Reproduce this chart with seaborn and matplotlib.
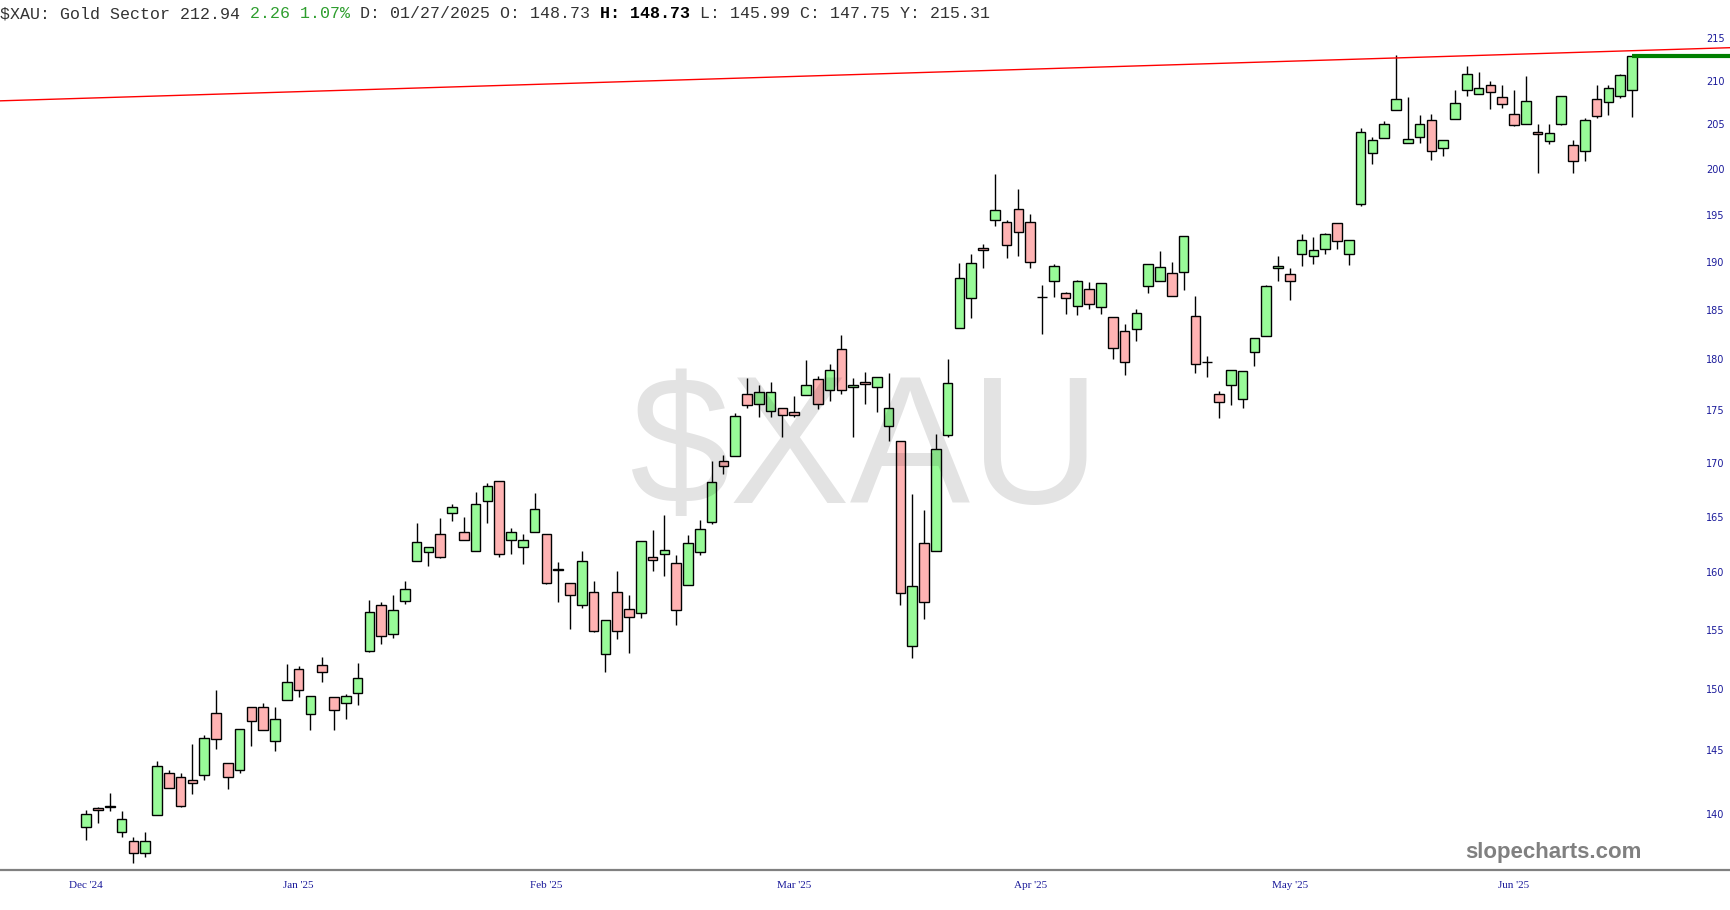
import numpy as np
import pandas as pd
import seaborn as sns
import matplotlib.pyplot as plt

# OHLC (velas diarias, dic 2024 - jun 2025)
opens = [139.0, 140.4, 140.5, 138.6, 137.9, 137.0, 139.9, 143.2, 142.9, 142.6,
         143.0, 148.0, 144.0, 143.4, 148.5, 148.5, 145.7, 149.1, 151.7, 147.9,
         152.0, 149.3, 148.8, 149.7, 153.2, 157.1, 154.6, 157.5, 161.0, 161.8,
         163.4, 165.3, 163.6, 161.9, 166.4, 168.3, 162.9, 162.3, 163.6, 163.4,
         160.2, 159.1, 157.1, 158.3, 152.9, 158.3, 156.8, 156.4, 161.4, 161.6,
         160.8, 158.9, 161.8, 164.5, 170.2, 170.6, 176.6, 175.6, 174.9, 175.2,
         174.8, 176.5, 178.1, 177.0, 181.0, 177.3, 177.8, 177.3, 173.5, 172.1,
         153.6, 162.6, 161.9, 172.6, 183.2, 186.2, 191.5, 194.4, 194.2, 195.6,
         194.2, 186.3, 188.0, 186.7, 185.4, 187.2, 185.3, 184.3, 182.9, 183.1,
         187.5, 188.0, 188.8, 188.9, 184.4, 179.7, 176.6, 177.5, 176.1, 180.7,
         182.4, 189.3, 188.7, 190.8, 190.6, 191.4, 194.1, 190.8, 196.2, 201.8,
         203.5, 206.6, 202.9, 203.6, 205.5, 202.4, 205.6, 208.9, 208.5, 209.5,
         208.1, 206.2, 205.0, 204.2, 203.1, 205.1, 202.7, 202.0, 207.9, 207.6,
         208.3, 208.9]
highs = [140.3, 140.5, 141.6, 140.2, 138.2, 138.6, 144.1, 143.4, 143.2, 145.5,
         146.2, 149.9, 144.0, 146.7, 148.5, 148.8, 148.5, 152.1, 151.9, 149.4,
         152.7, 149.3, 149.6, 152.2, 157.6, 157.4, 158.0, 159.2, 164.4, 162.3,
         164.9, 166.2, 165.0, 167.3, 168.1, 168.3, 164.0, 163.4, 167.2, 163.4,
         160.9, 159.1, 161.9, 159.2, 155.8, 160.1, 158.0, 162.8, 163.8, 165.2,
         161.5, 163.3, 164.7, 170.2, 170.7, 174.7, 178.2, 177.5, 177.8, 175.2,
         176.4, 179.9, 178.4, 179.6, 182.5, 178.2, 178.8, 178.3, 178.7, 172.1,
         167.1, 165.6, 172.7, 180.0, 189.9, 190.8, 191.9, 199.5, 194.4, 197.8,
         195.1, 187.6, 189.8, 186.8, 188.1, 187.9, 187.8, 184.3, 183.6, 185.1,
         189.8, 191.1, 190.0, 192.7, 186.4, 180.3, 176.9, 179.0, 178.9, 182.2,
         187.6, 190.6, 189.4, 192.9, 192.6, 193.1, 194.1, 192.3, 204.6, 203.6,
         205.4, 213.0, 208.1, 206.1, 206.2, 203.2, 208.9, 211.7, 211.1, 210.0,
         209.5, 208.9, 210.6, 205.0, 205.0, 208.3, 203.2, 205.7, 209.5, 209.5,
         210.8, 212.94]
lows = [138.0, 139.3, 140.2, 138.2, 136.2, 136.7, 139.9, 142.0, 140.5, 141.5,
        142.6, 145.1, 141.9, 143.2, 145.3, 146.6, 144.9, 149.1, 149.3, 146.6,
        150.6, 146.6, 147.5, 148.7, 153.1, 153.8, 154.3, 157.2, 161.0, 160.6,
        161.3, 164.6, 162.9, 161.9, 164.4, 161.4, 161.6, 160.7, 163.6, 159.0,
        157.4, 155.1, 156.9, 154.8, 151.4, 154.2, 153.0, 156.0, 160.1, 159.7,
        155.4, 158.9, 161.5, 164.3, 168.9, 170.6, 175.2, 174.4, 174.4, 172.4,
        174.4, 176.5, 175.1, 175.9, 176.6, 172.4, 175.6, 174.8, 172.1, 157.1,
        152.6, 155.9, 161.9, 172.4, 183.2, 184.2, 189.4, 193.8, 190.4, 190.6,
        189.3, 182.6, 186.3, 184.6, 184.5, 185.1, 184.6, 180.0, 178.5, 181.9,
        186.7, 188.0, 186.4, 187.1, 178.7, 178.3, 174.3, 175.5, 175.2, 179.4,
        182.4, 188.0, 186.0, 189.6, 189.8, 190.8, 191.4, 189.7, 196.0, 200.6,
        203.5, 206.6, 202.9, 202.9, 201.0, 201.4, 205.6, 208.3, 208.5, 206.8,
        206.9, 204.8, 205.0, 199.6, 202.8, 204.9, 199.6, 200.9, 205.7, 206.1,
        208.0, 205.8]
closes = [140.0, 140.3, 140.6, 139.6, 137.0, 137.9, 143.7, 142.0, 140.6, 142.4,
          146.0, 145.9, 142.9, 146.7, 147.4, 146.6, 147.5, 150.6, 149.9, 149.4,
          151.4, 148.3, 149.4, 150.9, 156.5, 154.5, 156.7, 158.5, 162.7, 162.3,
          161.4, 165.9, 162.9, 166.2, 167.8, 161.6, 163.6, 162.9, 165.7, 159.1,
          160.2, 158.0, 161.0, 154.9, 155.8, 154.9, 156.1, 162.8, 161.1, 162.0,
          156.7, 162.6, 163.9, 168.2, 169.7, 174.5, 175.5, 176.8, 176.8, 174.6,
          174.6, 177.5, 175.6, 179.0, 177.0, 177.5, 177.6, 178.3, 175.2, 158.2,
          158.8, 157.4, 171.3, 177.7, 188.3, 189.9, 191.2, 195.5, 191.8, 193.2,
          190.0, 186.3, 189.6, 186.2, 188.0, 185.6, 187.8, 181.1, 179.7, 184.7,
          189.8, 189.5, 186.4, 192.7, 179.6, 179.7, 175.8, 179.0, 178.9, 182.2,
          187.5, 189.6, 188.0, 192.3, 191.2, 192.9, 192.2, 192.3, 204.1, 203.2,
          205.0, 207.9, 203.4, 205.1, 202.0, 203.2, 207.5, 210.8, 209.2, 208.7,
          207.3, 204.9, 207.7, 203.9, 204.0, 208.3, 200.9, 205.5, 206.0, 209.2,
          210.7, 212.94]

month_labels = ["Dec '24", "Jan '25", "Feb '25", "Mar '25", "Apr '25", "May '25", "Jun '25"]
month_pos = [0, 18, 39, 60, 80, 102, 121]
y_ticks = [140, 145, 150, 155, 160, 165, 170, 175, 180, 185, 190, 195, 200, 205, 210, 215]

# línea de tendencia (resistencia) y último cierre
trend_x = [-7.3, 139.3]
trend_y = [207.7, 213.9]
last_close = 212.94

df = pd.DataFrame({'O': opens, 'H': highs, 'L': lows, 'C': closes})
df['i'] = np.arange(len(df))
df['up'] = df['C'] >= df['O']

sns.set_style("white")
fig = plt.figure(figsize=(17.3, 9.1), dpi=100)
ax = fig.add_axes([0, 0.044, 1, 0.9285])
ax.set_yscale('log')

# mechas
ax.vlines(df['i'], df['L'], df['H'], color='black', linewidth=1, zorder=2)
# cuerpos
base = df[['O', 'C']].min(axis=1)
alto = (df['C'] - df['O']).abs().clip(lower=0.05)
colores = np.where(df['up'], '#98fb98', '#ffb3b3')
ax.bar(df['i'], alto, bottom=base, width=0.82, color=colores,
       edgecolor='black', linewidth=1, zorder=3)

# tendencia roja
sns.lineplot(x=trend_x, y=trend_y, ax=ax, color='red', linewidth=1, zorder=4)
# línea verde del último cierre
ax.hlines(last_close, df['i'].iloc[-1], 140, color='#008000', linewidth=3, zorder=4)

ax.set_xlim(-7.3, 139.3)
ax.set_ylim(135.7, 216.6)

ax.set_yticks(y_ticks)
ax.set_yticklabels([str(t) for t in y_ticks])
ax.yaxis.set_minor_locator(plt.NullLocator())
ax.yaxis.tick_right()
ax.tick_params(axis='y', length=0, pad=-17, labelsize=7, labelcolor='#1a1a9a')
for lab in ax.get_yticklabels():
    lab.set_fontfamily('DejaVu Sans')

ax.set_xticks(month_pos)
ax.set_xticklabels(month_labels, fontfamily='Liberation Serif')
ax.tick_params(axis='x', length=0, pad=8, labelsize=8, labelcolor='#1a1a9a')

for s in ['top', 'left', 'right']:
    ax.spines[s].set_visible(False)
ax.spines['bottom'].set_color('#808080')
ax.spines['bottom'].set_linewidth(1.6)

# marca de agua
ax.text(0.5, 0.49, '$XAU', transform=ax.transAxes, ha='center', va='center',
        fontsize=130, color='black', alpha=0.11, family='Liberation Sans', zorder=5)

fig.text(0.949, 0.063, 'slopecharts.com', ha='right', va='center',
         fontsize=16, fontweight='bold', color='#808080', family='Liberation Sans')

# encabezado en monoespaciada
partes = [("$XAU: Gold Sector 212.94 ", '#333333', 'normal'),
          ("2.26 1.07%", '#2e9e2e', 'normal'),
          (" D: 01/27/2025 O: 148.73 ", '#333333', 'normal'),
          ("H: 148.73", 'black', 'bold'),
          (" L: 145.99 C: 147.75 Y: 215.31", '#333333', 'normal')]
tam = 12
ancho = 0.6 * tam * 100 / 72 / 1730
x0 = 0.0
for txt, col, peso in partes:
    fig.text(x0, 0.985, txt, ha='left', va='center', fontsize=tam, color=col,
             fontweight=peso, family='Liberation Mono')
    x0 += len(txt) * ancho

plt.savefig('out.png', dpi=100)
